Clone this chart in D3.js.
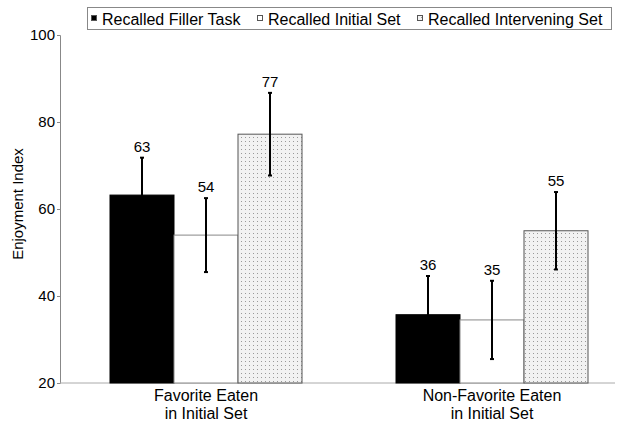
<!DOCTYPE html>
<html><head><meta charset="utf-8">
<script src="https://cdn.jsdelivr.net/npm/d3@7"></script>
<style>body{margin:0;background:#fff;} text{font-family:"Liberation Sans",Arial,sans-serif;}</style>
</head><body>
<svg id="c" width="626" height="424"></svg>
<script>
const categories = [["Favorite Eaten","in Initial Set"],["Non-Favorite Eaten","in Initial Set"]];
const seriesNames = ["Recalled Filler Task","Recalled Initial Set","Recalled Intervening Set"];
const means = [[63.2,54.0,77.2],[35.7,34.5,55.0]];
const errors = [[8.6,8.5,9.5],[8.9,9.0,8.9]];
const valueLabels = [["63","54","77"],["36","35","55"]];
const yTicks = [20,40,60,80,100];

const svg = d3.select("#c");
const defs = svg.append("defs");
const pat = defs.append("pattern").attr("id","dots").attr("patternUnits","userSpaceOnUse").attr("width",4).attr("height",4);
pat.append("rect").attr("width",4).attr("height",4).attr("fill","#f2f2f2");
pat.append("rect").attr("x",1).attr("y",1).attr("width",1).attr("height",1).attr("fill","#999");

const y = d3.scaleLinear().domain([20,100]).range([383,35]);
const groupX = [110,396];
const bw = 64;
const fills = ["#000","#fff","url(#dots)"];
const strokes = ["#000","#888","#555"];

const yAxis = d3.axisLeft(y).tickValues(yTicks).tickSize(3).tickPadding(2);
const ga = svg.append("g").attr("transform","translate(60,0)").call(yAxis);
ga.select(".domain").attr("stroke","#888");
ga.selectAll(".tick line").attr("stroke","#888");
ga.selectAll("text").attr("font-size",15).attr("fill","#000").attr("font-family","Liberation Sans, Arial, sans-serif");
svg.append("line").attr("x1",60).attr("x2",615).attr("y1",y(20)).attr("y2",y(20)).attr("stroke","#aaa");

svg.append("text").attr("transform","translate(23,204) rotate(-90)").attr("text-anchor","middle").attr("font-size",15).text("Enjoyment Index");

categories.forEach((cat,gi)=>{
  const g = svg.append("g");
  means[gi].forEach((m,si)=>{
    const xl = groupX[gi] + si*bw;
    g.append("rect").attr("x",xl).attr("y",y(m)).attr("width",bw).attr("height",y(20)-y(m))
      .attr("fill",fills[si]).attr("stroke",strokes[si]).attr("stroke-width",1);
  });
  means[gi].forEach((m,si)=>{
    const cx = groupX[gi] + si*bw + bw/2;
    const e = errors[gi][si];
    g.append("line").attr("x1",cx).attr("x2",cx).attr("y1",y(m-e)).attr("y2",y(m+e)).attr("stroke","#000").attr("stroke-width",2);
    [m-e,m+e].forEach(v=>g.append("line").attr("x1",cx-2).attr("x2",cx+2).attr("y1",y(v)).attr("y2",y(v)).attr("stroke","#000").attr("stroke-width",2));
    g.append("text").attr("x",cx).attr("y",y(m+e)-6).attr("text-anchor","middle").attr("font-size",15).text(valueLabels[gi][si]);
  });
  const cxg = groupX[gi] + 1.5*bw;
  cat.forEach((line,li)=>{
    svg.append("text").attr("x",cxg).attr("y",401+li*18).attr("text-anchor","middle").attr("font-size",16).text(line);
  });
});

const lg = svg.append("g");
lg.append("rect").attr("x",87.5).attr("y",7.5).attr("width",524).attr("height",22).attr("fill","#fff").attr("stroke","#888");
const legX = [91,257,417];
const legFill = ["#000","#fff","url(#dots)"];
seriesNames.forEach((n,i)=>{
  lg.append("rect").attr("x",legX[i]+0.5).attr("y",15.5).attr("width",5).attr("height",5).attr("fill",legFill[i]).attr("stroke","#555");
  lg.append("text").attr("x",legX[i]+11).attr("y",24.5).attr("font-size",16).text(n);
});
</script>
</body></html>
